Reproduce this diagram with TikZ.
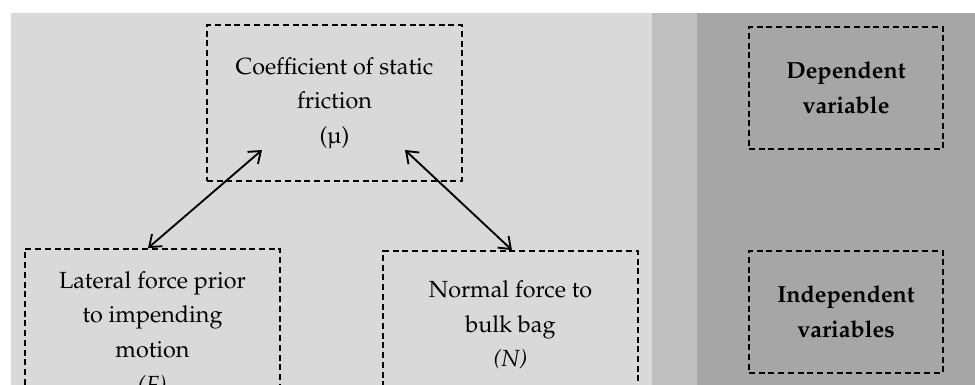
\documentclass[tikz,border=0pt]{standalone}
\usepackage[T1]{fontenc}
\usepackage{mathpazo}
\usetikzlibrary{arrows.meta}
\definecolor{bglight}{HTML}{D9D9D9}
\definecolor{bgmid}{HTML}{BFBFBF}
\definecolor{bgdark}{HTML}{A6A6A6}
\tikzset{
  dbox/.style={draw=black, dashed, dash pattern=on 4.5pt off 2.8pt, line width=1.35pt,
    inner sep=0pt, align=center, font=\fontsize{17.5}{26}\selectfont, text=black},
  arr/.style={line width=1.4pt, {Straight Barb[length=8pt,width=12pt]}-{Straight Barb[length=8pt,width=12pt]}}
}
\begin{document}
\begin{tikzpicture}[x=0.75pt, y=-0.75pt]
\clip (0,0) rectangle (975,385);
\useasboundingbox (0,0) rectangle (975,385);
\fill[white] (0,0) rectangle (975,385);
\fill[bglight] (11,13) rectangle (652,385);
\fill[bgmid] (652,13) rectangle (697,385);
\fill[bgdark] (697,13) rectangle (975,385);

\node[dbox, minimum width=191.25pt, minimum height=117pt] (coef) at (334.5,103)
  {Coefficient of static\\ friction\\ (\textmu)};
\node[dbox, minimum width=191.25pt, minimum height=126pt] (lat) at (152.5,333)
  {Lateral force prior\\ to impending\\ motion\\ \textit{(F)}};
\node[dbox, minimum width=191.25pt, minimum height=111pt] (norm) at (510.5,325)
  {Normal force to\\ bulk bag\\ \textit{(N)}};
\node[dbox, minimum width=145.5pt, minimum height=91.5pt, font=\fontsize{17.5}{26}\selectfont\bfseries] (dep) at (846,88)
  {Dependent\\ variable};
\node[dbox, minimum width=145.5pt, minimum height=91.5pt, font=\fontsize{17.5}{26}\selectfont\bfseries] (ind) at (846,312)
  {Independent\\ variables};

\coordinate (cl) at (262,150);
\coordinate (cr) at (405,150);
\draw[arr] ([xshift=-3.4pt]lat.north) -- (cl);
\draw[arr] (cr) -- ([xshift=1.1pt]norm.north);
\end{tikzpicture}
\end{document}
